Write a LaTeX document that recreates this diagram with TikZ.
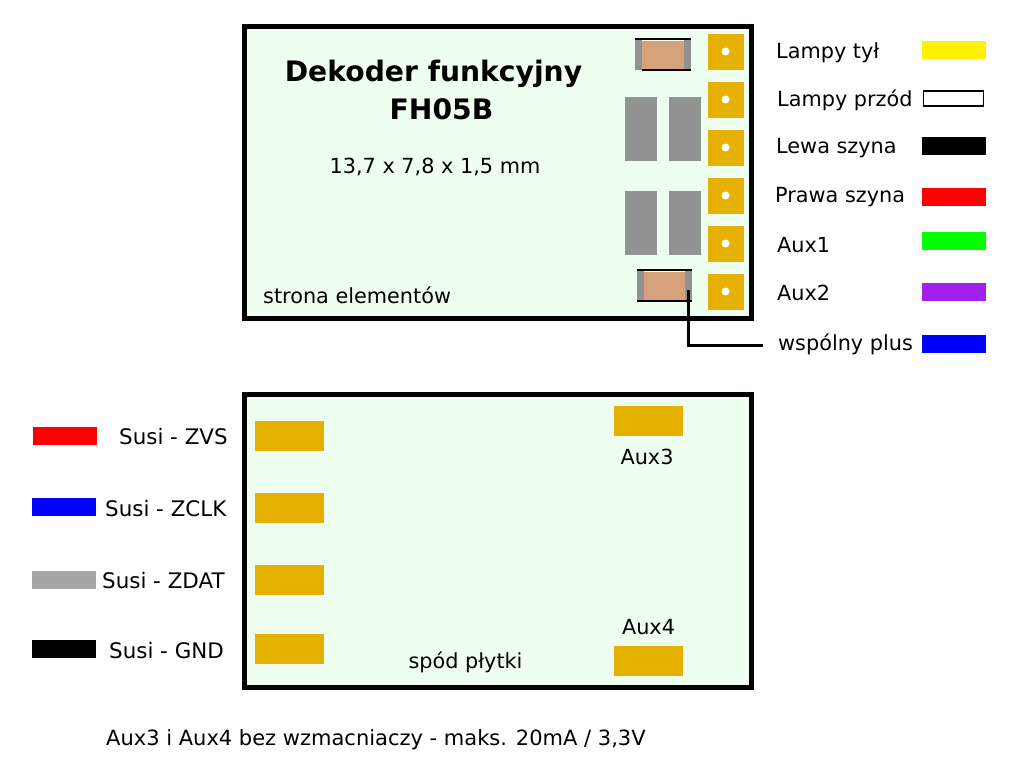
\documentclass[tikz,border=0pt]{standalone}
\usepackage{fontspec}
\setmainfont{DejaVu Sans}
\definecolor{plytka}{HTML}{EFFFEF}
\definecolor{pole}{HTML}{E6B000}
\definecolor{szary}{HTML}{929292}
\definecolor{brazowy}{HTML}{D5A27C}
\tikzset{
	plytka/.style={draw=black,line width=5pt,fill=plytka,inner sep=0pt,minimum width=507pt,minimum height=#1},
	pole/.style={fill=pole,inner sep=0pt,minimum width=36pt,minimum height=36pt},
	dziura/.style={circle,fill=white,inner sep=0pt,minimum size=8pt},
	lut/.style={fill=pole,inner sep=0pt,minimum width=69pt,minimum height=30pt},
	klocek/.style={fill=szary,inner sep=0pt,minimum width=32pt,minimum height=64pt},
	koniec/.style={fill=szary,inner sep=0pt,minimum width=7pt,minimum height=31pt},
	rezystor/.style={fill=brazowy,inner sep=0pt,minimum width=42pt,minimum height=28pt},
	kabel/.style={inner sep=0pt,minimum width=64pt,minimum height=18pt,fill=#1},
	opis/.style={inner sep=0pt,yshift=-1.5pt,font=\fontsize{20.8pt}{24pt}\selectfont},
	susi/.style={opis,anchor=west,font=\fontsize{21.4pt}{24pt}\selectfont},
	tytul/.style={inner sep=0pt,yshift=-1.5pt,font=\fontsize{28.2pt}{32pt}\selectfont\bfseries}
}
\begin{document}
\begin{tikzpicture}[x=1pt,y=-1pt]
	\useasboundingbox (0,0) rectangle (1024,766);
	\fill[white] (0,0) rectangle (1024,766);
	% plytki
	\node[plytka=292pt] (gora) at (497.5,172) {};
	\node[plytka=293pt] (dol) at (497.5,540.5) {};
	% pola lutownicze
	\foreach \nr/\y in {1/51.5,2/99.5,3/147.5,4/195.5,5/243.5,6/291.5}{
		\node[pole] (p\nr) at (726,\y) {};
		\node[dziura] (h\nr) at (725.5,\y) {};
	}
	% klocki
	\node[klocek] (k1) at (641,129) {};
	\node[klocek] (k2) at (685,129) {};
	\node[klocek] (k3) at (641,223) {};
	\node[klocek] (k4) at (685,223) {};
	% rezystory
	\node[rezystor] (r1) at (663,55) {};
	\node[koniec] (r1a) at (638.5,54.5) {};
	\node[koniec] (r1b) at (687.5,54.5) {};
	\draw[line width=2.5pt] (r1a.north west) -- (r1b.north east);
	\draw[line width=2.5pt] (r1a.south east) -- (r1b.south east);
	\node[rezystor] (r2) at (664.5,286) {};
	\node[koniec] (r2a) at (640.5,285.5) {};
	\node[koniec] (r2b) at (688.5,285.5) {};
	\draw[line width=2.5pt] (r2a.north west) -- (r2b.north east);
	\draw[line width=2.5pt] (r2a.south west) -- (r2b.south east);
	% napisy na gorze
	\node[tytul] (t1) at (433.5,72) {Dekoder funkcyjny};
	\node[tytul] (t2) at (441.5,108) {FH05B};
	\node[opis] (t3) at (435,165) {13,7 x 7,8 x 1,5 mm};
	\node[opis,anchor=west] (t4) at (263,294) {strona elementów};
	% legenda
	\foreach \n/\x/\y/\txt/\kol/\yk in {
		a/776/51/Lampy tył/yellow/50,
		c/776/147/Lewa szyna/black/146,
		d/775/196/Prawa szyna/red/197,
		e/777/244/Aux1/green/241,
		f/777/291/Aux2/{rgb,255:red,160;green,32;blue,240}/292,
		g/778/343/wspólny plus/blue/344}{
		\node[opis,anchor=west] (l\n) at (\x,\y) {\txt};
		\node[kabel=\kol] (s\n) at (954,\yk) {};
	}
	\node[opis,anchor=west] (lb) at (777,99) {Lampy przód};
	\node[draw=black,line width=1.8pt,fill=white,inner sep=0pt,minimum width=60pt,minimum height=15pt] (sb) at (953.5,98.3) {};
	% przewod
	\coordinate (w1) at (688,290);
	\coordinate (w2) at (763,345);
	\draw[line width=3pt] (w1) |- (w2);
	% spod
	\foreach \nr/\y in {1/435.5,2/507.5,3/579.5,4/648.5}
		\node[lut] (d\nr) at (289.5,\y) {};
	\node[lut] (aux3) at (648.5,421) {};
	\node[lut] (aux4) at (648.5,661) {};
	\node[opis] (n3) at (647,455) {Aux3};
	\node[opis] (n4) at (648.5,626) {Aux4};
	\node[opis] (n5) at (465.5,661) {spód płytki};
	\foreach \n/\x/\y/\txt/\kol/\xk/\yk in {
		1/119/435/Susi - ZVS/red/64.5/436,
		2/105/507/Susi - ZCLK/blue/64/507,
		3/102/579/Susi - ZDAT/{rgb,255:red,166;green,166;blue,166}/63.5/580,
		4/109/649/Susi - GND/black/64/649}{
		\node[susi] (m\n) at (\x,\y) {\txt};
		\node[kabel=\kol] (z\n) at (\xk,\yk) {};
	}
	\node[opis,anchor=west,font=\fontsize{21pt}{24pt}\selectfont] (uw) at (106,738) {Aux3 i Aux4 bez wzmacniaczy - maks. 20mA / 3,3V};
\end{tikzpicture}
\end{document}
